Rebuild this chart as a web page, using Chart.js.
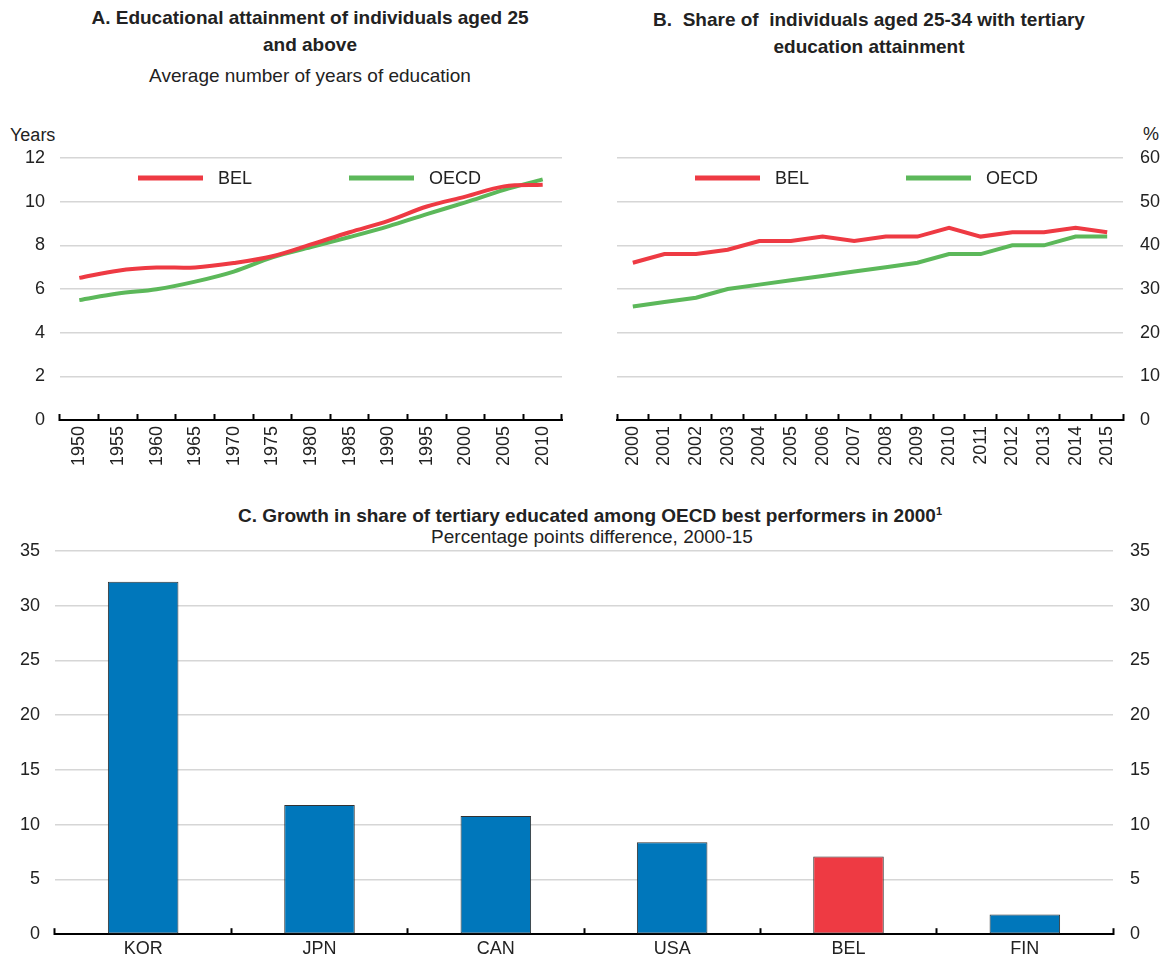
<!DOCTYPE html>
<html>
<head>
<meta charset="utf-8">
<script src="https://cdn.jsdelivr.net/npm/chart.js@4.4.1/dist/chart.umd.min.js"></script>
<style>
  body { margin: 0; background: #fff; width: 1161px; height: 962px; position: relative; overflow: hidden;
         font-family: 'Liberation Sans', Arial, sans-serif; color: #222; }
  .title { position: absolute; text-align: center; font-weight: bold; font-size: 19px; line-height: 27px; white-space: pre; }
  .sub { position: absolute; text-align: center; font-size: 19px; line-height: 22px; white-space: pre; }
  .unit { position: absolute; font-size: 18px; }
  canvas { position: absolute; }
</style>
</head>
<body>
<div class="title" style="left:10px;top:4px;width:600px;">A. Educational attainment of individuals aged 25<br>and above</div>
<div class="sub" style="left:10px;top:65px;width:600px;">Average number of years of education</div>
<div class="title" style="left:569px;top:6px;width:600px;">B.  Share of  individuals aged 25-34 with tertiary<br>education attainment</div>
<div class="unit" style="left:10px;top:125px;">Years</div>
<div class="unit" style="left:1143px;top:124px;">%</div>
<div class="title" style="left:0px;top:502px;width:1180px;">C. Growth in share of tertiary educated among OECD best performers in 2000<sup style="font-size:11px;line-height:0">1</sup></div>
<div class="sub" style="left:0px;top:526px;width:1184px;">Percentage points difference, 2000-15</div>

<canvas id="chartA" width="580" height="380" style="left:0;top:100px;"></canvas>
<canvas id="chartB" width="581" height="380" style="left:580px;top:100px;"></canvas>
<canvas id="chartC" width="1161" height="482" style="left:0;top:480px;"></canvas>

<script>
// Panel A: average years of education, age 25+
const yearsA = ['1950', '1955', '1960', '1965', '1970', '1975', '1980', '1985', '1990', '1995', '2000', '2005', '2010'];
const belA = [6.51, 6.84, 6.98, 6.99, 7.19, 7.5, 8.04, 8.6, 9.12, 9.78, 10.23, 10.7, 10.77];
const oecdA = [5.49, 5.79, 5.99, 6.34, 6.8, 7.45, 7.92, 8.38, 8.87, 9.43, 9.97, 10.54, 11.02];

// Panel B: share of 25-34 with tertiary education (%)
const yearsB = ['2000', '2001', '2002', '2003', '2004', '2005', '2006', '2007', '2008', '2009', '2010', '2011', '2012', '2013', '2014', '2015'];
const belB = [36, 38, 38, 39, 41, 41, 42, 41, 42, 42, 44, 42, 43, 43, 44, 43];
const oecdB = [26, 27, 28, 30, 31, 32, 33, 34, 35, 36, 38, 38, 40, 40, 42, 42];

// Panel C: growth in tertiary share 2000-15 (pp)
const countriesC = ['KOR', 'JPN', 'CAN', 'USA', 'BEL', 'FIN'];
const growthC = [32.2, 11.8, 10.8, 8.4, 7.1, 1.8];

const RED = '#ee3a43';
const GREEN = '#5cb85a';
const BLUE = '#0077bb';
const GRID = '#d6d6d6';
const TEXT = '#222';
const FONT = "'Liberation Sans', Arial, sans-serif";
const tickFont = { family: FONT, size: 18 };

// legend drawn inside the plot area
const insideLegend = {
  id: 'insideLegend',
  afterDraw(chart) {
    const { ctx, chartArea } = chart;
    const offsets = [78, 289];
    ctx.save();
    chart.data.datasets.forEach((ds, i) => {
      const x = chartArea.left + offsets[i];
      const y = chartArea.top + 20;
      ctx.strokeStyle = ds.borderColor;
      ctx.lineWidth = 5;
      ctx.beginPath();
      ctx.moveTo(x, y);
      ctx.lineTo(x + 65, y);
      ctx.stroke();
      ctx.fillStyle = TEXT;
      ctx.font = '18px ' + FONT;
      ctx.textBaseline = 'middle';
      ctx.fillText(ds.label, x + 80, y + 1);
    });
    ctx.restore();
  }
};

function xAxis(height, padding, rotate) {
  return {
    type: 'category',
    offset: true,
    grid: { display: true, drawOnChartArea: false, offset: true, tickLength: -6, tickColor: '#000', tickWidth: 2 },
    border: { display: true, color: '#000', width: 2 },
    ticks: { color: TEXT, font: tickFont, padding: padding, autoSkip: false,
             minRotation: rotate, maxRotation: rotate },
    afterFit(s) { s.height = height; }
  };
}

function yAxis(pos, max, step, width, onArea) {
  return {
    position: pos,
    min: 0,
    max: max,
    ticks: { stepSize: step, padding: pos === 'right' ? 17 : 15, color: TEXT, font: tickFont },
    grid: { color: GRID, lineWidth: 1.5, drawTicks: false, drawOnChartArea: onArea },
    border: { display: false },
    afterFit(s) { s.width = width; }
  };
}

function lineSet(label, data, color, tension) {
  return {
    label: label,
    data: data,
    borderColor: color,
    backgroundColor: color,
    borderWidth: 4,
    pointRadius: 0,
    tension: tension,
    fill: false
  };
}

const common = {
  responsive: false,
  animation: false,
  plugins: { legend: { display: false }, tooltip: { enabled: false } }
};

new Chart(document.getElementById('chartA'), {
  type: 'line',
  data: {
    labels: yearsA,
    datasets: [lineSet('BEL', belA, RED, 0.35), lineSet('OECD', oecdA, GREEN, 0.35)]
  },
  options: {
    ...common,
    layout: { padding: { top: 58, right: 18, left: 0, bottom: 0 } },
    scales: { x: xAxis(60, 12, 90), y: yAxis('left', 12, 2, 60, true) }
  },
  plugins: [insideLegend]
});

new Chart(document.getElementById('chartB'), {
  type: 'line',
  data: {
    labels: yearsB,
    datasets: [lineSet('BEL', belB, RED, 0), lineSet('OECD', oecdB, GREEN, 0)]
  },
  options: {
    ...common,
    layout: { padding: { top: 58, right: 0, left: 37, bottom: 0 } },
    scales: { x: xAxis(60, 12, 90), y: yAxis('right', 60, 10, 38, true) }
  },
  plugins: [insideLegend]
});

new Chart(document.getElementById('chartC'), {
  type: 'bar',
  data: {
    labels: countriesC,
    datasets: [{
      label: 'Growth',
      data: growthC,
      backgroundColor: countriesC.map(c => c === 'BEL' ? RED : BLUE),
      borderColor: '#333',
      borderWidth: 1,
      borderSkipped: false,
      categoryPercentage: 1,
      barPercentage: 0.4
    }]
  },
  options: {
    ...common,
    layout: { padding: { top: 71, right: 0, left: 0, bottom: 0 } },
    scales: {
      x: xAxis(25, 10, 0),
      y: yAxis('left', 35, 5, 55, true),
      y2: yAxis('right', 35, 5, 48, false)
    }
  }
});
</script>
</body>
</html>
